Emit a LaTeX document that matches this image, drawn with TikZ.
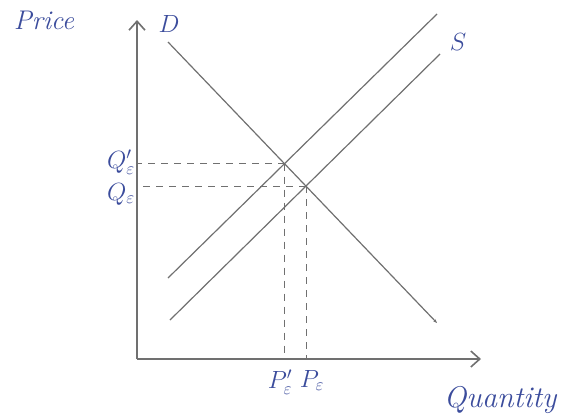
\documentclass[tikz,border=0pt]{standalone}
\usetikzlibrary{arrows.meta}
\definecolor{penGray}{HTML}{707070}
\definecolor{inkBlue}{HTML}{3B4C9C}
\tikzset{
  sd axis/.style={line width=1.6pt, penGray, -{Straight Barb[length=9pt,width=16pt]}},
  sd curve/.style={line width=1.2pt, penGray},
  sd guide/.style={line width=0.9pt, penGray, dash pattern=on 7pt off 6pt},
  sd label/.style={inkBlue, inner sep=1pt, font=\fontsize{24}{26}\selectfont},
}

\begin{document}
\begin{tikzpicture}[x=1pt, y=-1pt]
\useasboundingbox (0,0) rectangle (575,418);
% axes
\coordinate (origin) at (137,359);
\coordinate (ytop)   at (137,20);
\coordinate (xend)   at (481,359);
\draw [sd axis] (origin) -- (ytop);
\draw [sd axis] (origin) -- (xend);

% demand and the two supply lines
\coordinate (dtop) at (168,42);
\coordinate (dbot) at (437,323);
\coordinate (snewa) at (168,278);
\coordinate (snewb) at (437,14);
\coordinate (solda) at (170,320);
\coordinate (soldb) at (440,54);
\draw [sd curve, -{Stealth[length=4pt,width=3pt]}] (dtop) -- (dbot);
\draw [sd curve] (snewa) -- (snewb);
\draw [sd curve] (solda) -- (soldb);

% equilibria
\coordinate (eqnew) at (intersection of dtop--dbot and snewa--snewb);
\coordinate (eqold) at (intersection of dtop--dbot and solda--soldb);
\draw [sd guide] (eqnew) -- (eqnew -| origin);
\draw [sd guide] (eqold) -- (eqold -| origin);
\draw [sd guide] (eqnew) -- (eqnew |- origin);
\draw [sd guide] (eqold) -- (eqold |- origin);

% labels
\node (price) [sd label, font=\fontsize{27}{29}\selectfont\itshape] at (44,20) {Price};
\node (qty)   [sd label, font=\fontsize{30}{32}\selectfont\itshape] at (500,400) {Quantity};
\node (dlab)  [sd label] at (169,24) {$D$};
\node (slab)  [sd label, font=\fontsize{28}{30}\selectfont] at (458,42) {$S$};
\node (qnew)  [sd label, font=\fontsize{27}{29}\selectfont, anchor=east] at (136,162) {$Q'_{\varepsilon}$};
\node (qold)  [sd label, font=\fontsize{27}{29}\selectfont, anchor=east] at (136,194) {$Q_{\varepsilon}$};
\node (pnew)  [sd label, anchor=north] at (280,369) {$P'_{\varepsilon}$};
\node (pold)  [sd label, anchor=north] at (312,369) {$P_{\varepsilon}$};
\end{tikzpicture}
\end{document}
